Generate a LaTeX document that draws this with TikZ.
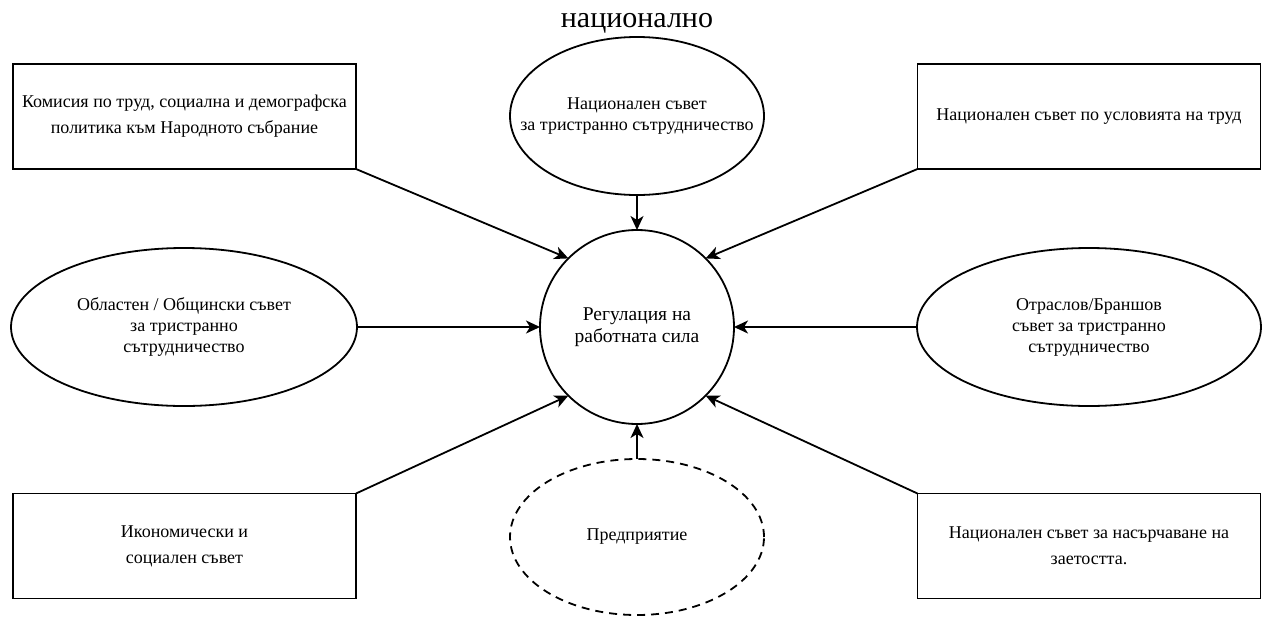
\documentclass[tikz,border=0pt]{standalone}
\usepackage{fontspec}
\setmainfont{Liberation Serif}
\usetikzlibrary{shapes.geometric,arrows.meta}
\begin{document}
\begin{tikzpicture}[x=1pt,y=-1pt,
  every node/.style={align=center, inner sep=0pt, outer sep=0pt},
  box/.style={draw, line width=1.8pt, rectangle, minimum width=343pt, minimum height=105pt, font=\fontsize{18}{26}\selectfont},
  oval/.style={draw, line width=1.8pt, ellipse},
  ovaltext/.style={label={[font=\fontsize{18}{21}\selectfont, align=center]center:{#1}}},
  arr/.style={line width=1.8pt, -{Stealth[length=14pt,width=13pt,inset=4pt]}}]
\useasboundingbox (0,0) rectangle (1262,619);
\node[font=\fontsize{30}{36}\selectfont, anchor=base] (title) at (637,27) {национално};
\node[draw, line width=1.8pt, circle, minimum size=194pt, font=\fontsize{19.5}{22}\selectfont] (c) at (637,327) {Регулация на\\работната сила};
\node[box] (tl) at (184.5,116.5) {Комисия по труд, социална и демографска\\политика към Народното събрание};
\node[box] (tr) at (1089,116.5) {Национален съвет по условията на труд};
\node[box] (bl) at (184.5,546) {Икономически и\\социален съвет};
\node[box] (br) at (1089,546) {Национален съвет за насърчаване на\\заетостта.};
\node[oval, minimum width=254pt, minimum height=158pt, ovaltext={Национален съвет\\за тристранно сътрудничество}] (tc) at (637,116) {};
\node[oval, minimum width=346pt, minimum height=158pt, ovaltext={Областен / Общински съвет\\за тристранно\\сътрудничество}] (ml) at (184,327) {};
\node[oval, minimum width=344pt, minimum height=158pt, ovaltext={Отраслов/Браншов\\съвет за тристранно\\сътрудничество}] (mr) at (1089,327) {};
\node[oval, dashed, dash pattern=on 8pt off 6pt, minimum width=254pt, minimum height=156pt, ovaltext={Предприятие}] (bc) at (637,537) {};
\draw[arr] (tl.south east) -- (c.north west);
\draw[arr] (tr.south west) -- (c.north east);
\draw[arr] (bl.north east) -- (c.south west);
\draw[arr] (br.north west) -- (c.south east);
\draw[arr] (ml.east) -- (c.west);
\draw[arr] (mr.west) -- (c.east);
\draw[arr] (tc.south) -- (c.north);
\draw[arr] (bc.north) -- (c.south);
\end{tikzpicture}
\end{document}
